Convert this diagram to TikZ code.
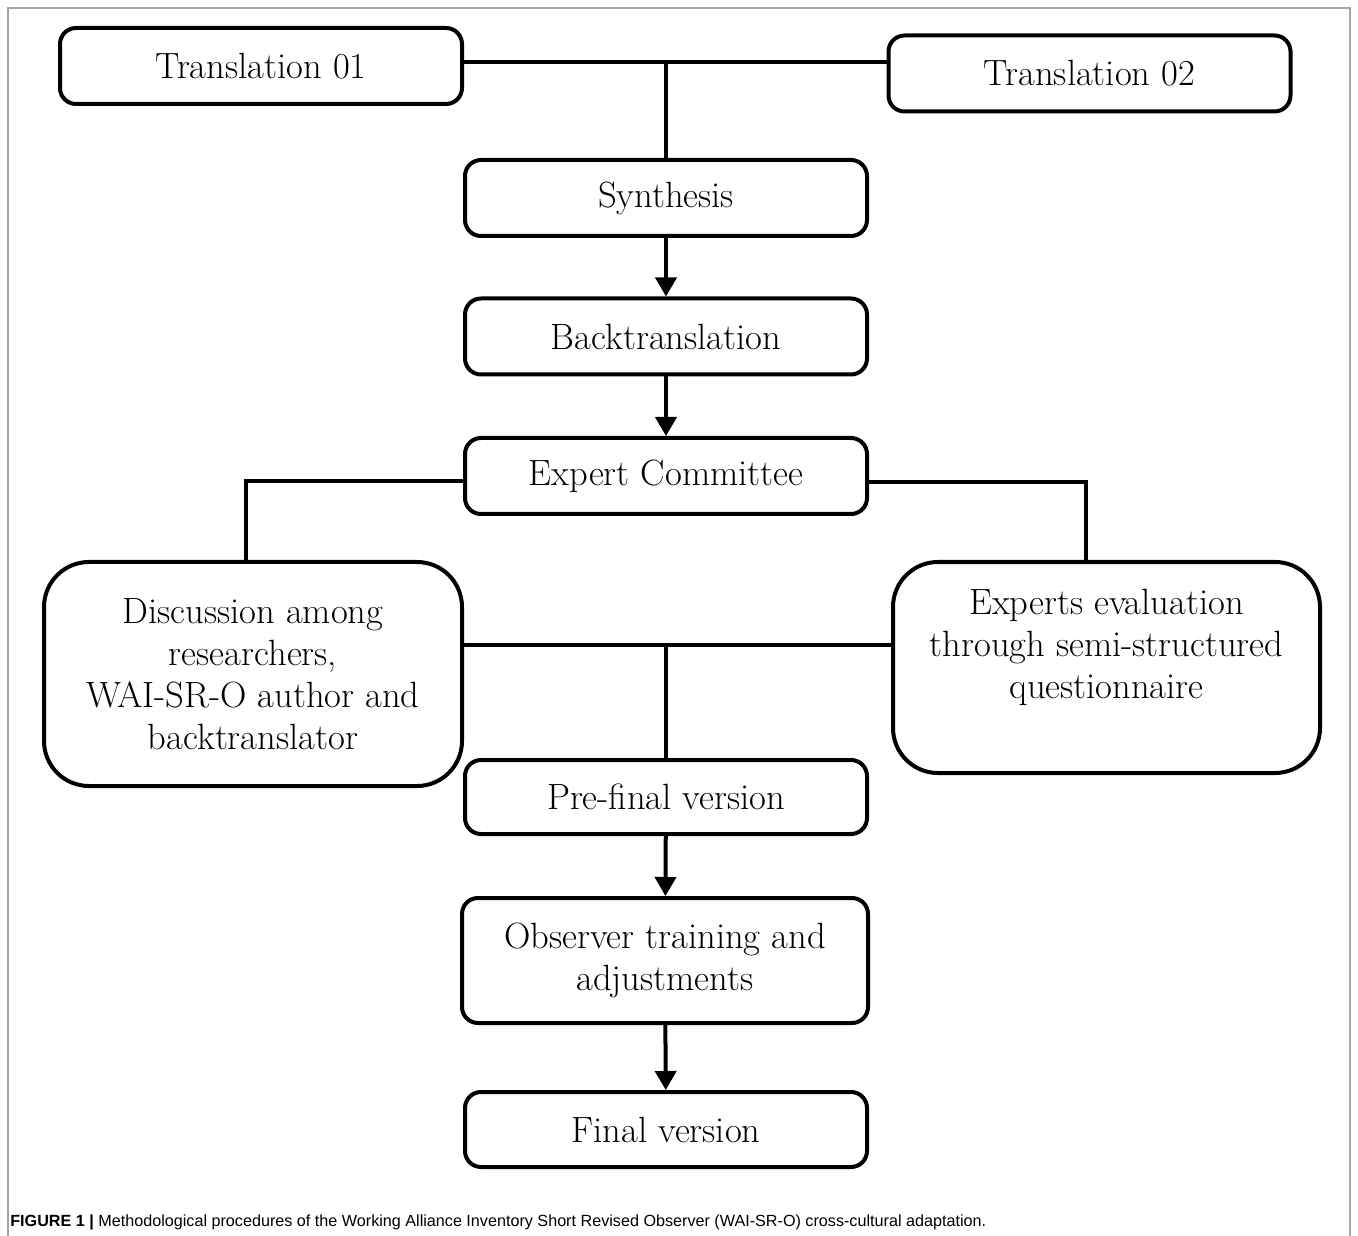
\documentclass[tikz,border=0pt]{standalone}
\usepackage{fontspec}
\newfontfamily\capfont{Liberation Sans}
\usetikzlibrary{arrows.meta}

\begin{document}
\begin{tikzpicture}[
          every node/.style={align=center},
          box/.style={draw, line width=0.08cm, rounded corners=0.32cm,
            font=\fontsize{20.8}{24}\selectfont, minimum width=8.04cm, minimum height=1.52cm},
          bigbox/.style={box, rounded corners=0.9cm},
          link/.style={line width=0.08cm},
          arrow/.style={link, -{Triangle[width=0.42cm,length=0.38cm]}}
        ]

        % Frame and page size
        \useasboundingbox (0,0) rectangle (27.16,-24.72);
        \draw[gray!70, line width=0.03cm] (0.16,-24.8) -- (0.16,-0.16) -- (27.0,-0.16) -- (27.0,-24.8);

        % Translations
        \node[box] (trans1) at (5.22,-1.32) {Translation 01};
        \node[box] (trans2) at (21.79,-1.47) {Translation 02};

        % Middle column
        \node[box] (synth) at (13.32,-3.96) {Synthesis};
        \node[box] (backtr) at (13.32,-6.73) {Backtranslation};
        \node[box] (committee) at (13.32,-9.52) {Expert Committee};

        % Two sides
        \node[bigbox, minimum width=8.36cm, minimum height=4.48cm] (discuss) at (5.06,-13.48)
          {Discussion among\\researchers,\\WAI-SR-O author and\\backtranslator};
        \node[bigbox, minimum width=8.54cm, minimum height=4.22cm] (evaluate) at (22.13,-13.35)
          {Experts evaluation\\through semi-structured\\questionnaire\\[-4pt]\strut};

        % Lower column
        \node[box, minimum height=1.48cm] (prefinal) at (13.32,-15.94) {Pre-final version};
        \node[box, minimum width=8.12cm, minimum height=2.5cm] (observer) at (13.30,-19.21)
          {Observer training and\\adjustments};
        \node[box, minimum height=1.5cm] (final) at (13.32,-22.59) {Final version};

        % Connectors
        \draw[link] ([yshift=0.08cm]trans1.east) -- ([yshift=0.08cm]trans1.east -| trans2.west);
        \draw[link] ([yshift=0.08cm]trans1.east -| synth.north) -- (synth.north);
        \draw[arrow] (synth) -- (backtr);
        \draw[arrow] (backtr) -- (committee);
        \draw[link] ([yshift=-0.1cm]committee.west) -| ([xshift=-0.14cm]discuss.north);
        \draw[link] ([yshift=-0.12cm]committee.east) -| ([xshift=-0.41cm]evaluate.north);
        \draw[link] ([yshift=0.58cm]discuss.east) -- ([yshift=0.58cm]discuss.east -| evaluate.west);
        \draw[link] ([yshift=0.58cm]discuss.east -| prefinal.north) -- (prefinal.north);
        \draw[arrow] (prefinal) -- (observer);
        \draw[arrow] (observer) -- (final);

        % Caption
        \node[anchor=west, font=\capfont\fontsize{9.2}{11}\selectfont, inner sep=0pt] (caption) at (0.2,-24.44)
          {\textbf{FIGURE 1 |} Methodological procedures of the Working Alliance Inventory Short Revised Observer (WAI-SR-O) cross-cultural adaptation.};

      \end{tikzpicture}
\end{document}
